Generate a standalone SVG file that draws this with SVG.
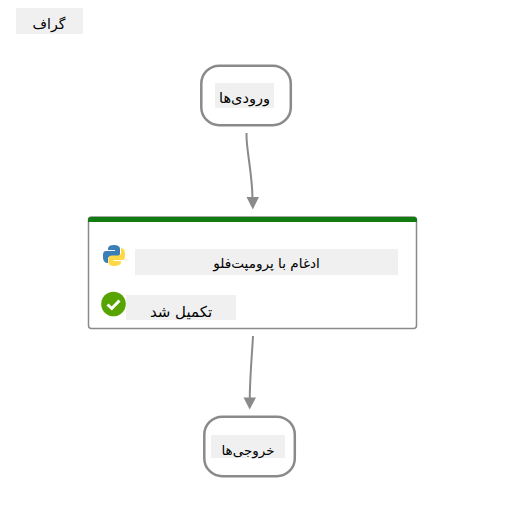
<svg xmlns="http://www.w3.org/2000/svg" width="507" height="505" viewBox="0 0 507 505">
<style>
text{font-family:"DejaVu Sans","Noto Sans",sans-serif;fill:#000;text-anchor:middle;direction:rtl}
.bg{fill:#f0f0f0}
.n{fill:#fff;stroke:#8a8a8a;stroke-width:2.5}
.c{fill:none;stroke:#8a8a8a;stroke-width:2}
.a{fill:#8a8a8a}
</style>
<rect width="507" height="505" fill="#fff"/>
<g id="title"><rect class="bg" x="16" y="8" width="67" height="26"/><text x="49" y="29" font-size="14">گراف</text></g>
<g id="connectors">
<path class="c" d="M246.500 133C246 150 252 170 252.500 198"/><path class="a" d="M246.500 197H259L252.800 209.500Z"/>
<path class="c" d="M253 336C252 355 250 375 249.700 400"/><path class="a" d="M243.500 397.500H256L249.700 409.500Z"/>
</g>
<g id="inputs"><rect class="n" x="201.300" y="65.700" width="89.500" height="59.500" rx="18"/><rect class="bg" x="215" y="83" width="59" height="25"/><text x="244.500" y="102.500" font-size="14.500">ورودی‌ها</text></g>
<g id="merge">
<rect x="88.500" y="217" width="328" height="111.500" rx="3" fill="#fff" stroke="#8a8a8a" stroke-width="1.500"/>
<path d="M88 222V220Q88 217 91 217H414Q417 217 417 220V222Z" fill="#107c10"/>
<rect class="bg" x="135" y="249" width="263" height="26"/><text x="266.500" y="268" font-size="13.600">ادغام با پرومپت‌فلو</text>
<path d="M114 245C108 245 108 248 108 250H115V251H106C103 251 103 254 103 257C103 261 105 263 108 263V259C108 257 109 256.500 111 256.500H117C119 256.500 120 255.500 120 253V249C120 246 117 245 114 245Z" fill="#3a7fb8"/>
<path d="M114.500 266C120.500 266 121 263 121 261H113.500V260H122.500C125 260 125 257 125 254C125 250 123.500 248 121 248V252C121 254.500 120 255.500 118 255.500H112C110 255.500 108.500 256.500 108.500 259V262.500C108.500 265 111 266 114.500 266Z" fill="#ffd845"/>
<circle cx="113.500" cy="304" r="12.300" fill="#57a300"/>
<path d="M107.500 304.500L111.800 308.500L119.500 300.500" fill="none" stroke="#fff" stroke-width="3"/>
<rect class="bg" x="126" y="295" width="110" height="25"/><text x="181" y="317" font-size="15">تکمیل شد</text>
</g>
<g id="outputs"><rect class="n" x="204.300" y="416.700" width="90.500" height="59.500" rx="18"/><rect class="bg" x="211" y="435" width="74" height="23"/><text x="248" y="454.500" font-size="13.500">خروجی‌ها</text></g>
</svg>
